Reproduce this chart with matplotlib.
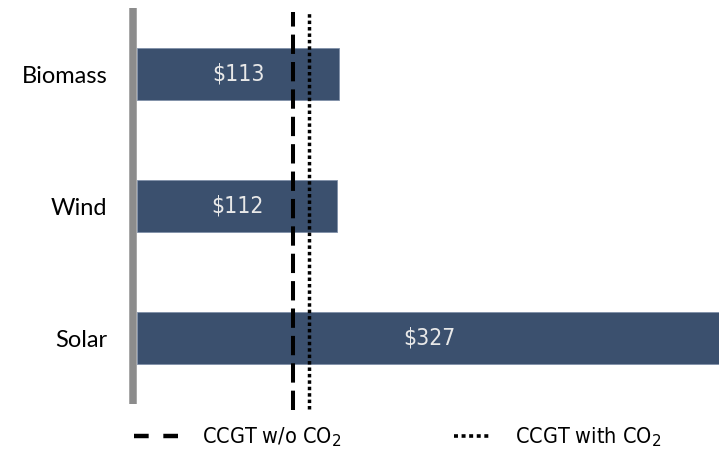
import matplotlib
matplotlib.use('Agg')
import matplotlib.pyplot as plt
from matplotlib.lines import Line2D

# levelised cost per technology, $/MWh
techs = ['Biomass', 'Wind', 'Solar']
costs = [113, 112, 327]
value_labels = ['$113', '$112', '$327']

# gas reference costs
ccgt_names = ['CCGT w/o CO$_2$', 'CCGT with CO$_2$']
ccgt_costs = [87, 96]

bar_color = '#3B506E'
narrow = {'family': 'DejaVu Sans', 'stretch': 'condensed'}

fig = plt.figure(figsize=(7.19, 4.53), dpi=100)
ax = fig.add_axes([137 / 719, 49 / 453, 582 / 719, 396 / 453])

y = list(range(len(techs)))
bars = ax.barh(y, costs, height=0.4, color=bar_color, edgecolor='#8090A8', linewidth=0.6)
ax.set_ylim(2.5, -0.5)
ax.set_xlim(0, 325.5)

# value labels in the middle of each bar
for b, lab in zip(bars, value_labels):
    ax.text(b.get_width() / 2, b.get_y() + b.get_height() / 2, lab,
            ha='center', va='center', color='#E8E8E8', fontsize=16.5, **narrow)

# reference lines for gas
ax.axvline(ccgt_costs[0], ymin=-0.015, ymax=0.99, color='black', lw=2.9,
           dashes=(4.8, 2.0), clip_on=False)
ax.axvline(ccgt_costs[1], ymin=-0.013, ymax=0.993, color='black', lw=2.5,
           dashes=(1.0, 0.85), clip_on=False)

ax.set_yticks(y)
ax.set_yticklabels(techs)
ax.tick_params(axis='y', length=0, pad=18.5, labelsize=17, labelfontfamily='Lato')
ax.set_xticks([])
for side in ['top', 'right', 'bottom']:
    ax.spines[side].set_visible(False)
ax.spines['left'].set_color('#8C8C8C')
ax.spines['left'].set_linewidth(5.4)
ax.spines['left'].set_capstyle('butt')
ax.spines['left'].set_position(('outward', 3))

# legend entries below the plot
handles = [
    Line2D([], [], color='black', lw=3.2, dashes=(3.3, 3.3)),
    Line2D([], [], color='black', lw=2.6, dashes=(1.1, 1.0)),
]
legend_x = [134, 454]
handle_len = [2.04, 1.72]
for h, name, lx, hl in zip(handles, ccgt_names, legend_x, handle_len):
    fig.legend([h], [name], loc='center left', bbox_to_anchor=(lx / 719, 1 - 437 / 453),
               frameon=False, borderpad=0, borderaxespad=0, handlelength=hl,
               handletextpad=1.12, prop=dict(size=15.5, **narrow))

fig.savefig('out.png', dpi=100)
